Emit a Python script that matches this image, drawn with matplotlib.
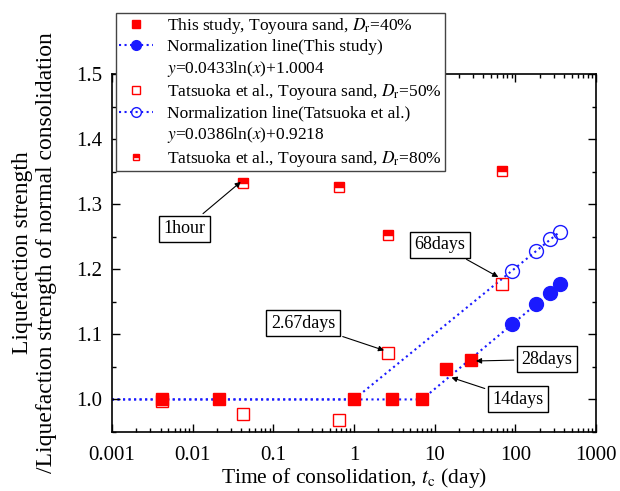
import matplotlib
matplotlib.use('Agg')
import matplotlib.pyplot as plt
from matplotlib.lines import Line2D
from matplotlib.ticker import MultipleLocator, LogLocator, NullFormatter, FixedLocator, FixedFormatter

plt.rcParams['font.family'] = ['Liberation Serif', 'DejaVu Serif']
plt.rcParams['mathtext.fontset'] = 'stix'

# This study, Dr=40%
study_t = [0.0042, 0.021, 1.0, 3.0, 7.0, 14.0, 28.0]
study_r = [1.0, 1.0, 1.0, 1.0, 1.0, 1.046, 1.061]
# normalized points
norm_t = [90, 180, 270, 360]
norm_study_r = [1.116, 1.147, 1.164, 1.177]
norm_tat_r = [1.197, 1.228, 1.246, 1.258]
# Tatsuoka et al. Dr=50%
tat50_t = [0.0042, 0.042, 0.65, 2.67, 68.0]
tat50_r = [0.998, 0.977, 0.969, 1.071, 1.178]
# Tatsuoka et al. Dr=80%
tat80_t = [0.042, 0.65, 2.67, 68.0]
tat80_r = [1.332, 1.326, 1.252, 1.351]
# normalization lines (straight on log axis)
line_study_t = [0.001, 7.0, 360]
line_study_r = [1.0, 1.0, 1.177]
line_tat_t = [0.001, 1.0, 360]
line_tat_r = [1.0, 1.0, 1.258]

# annotations: label, point, text position
notes = [
    ('1hour', (0.042, 1.337), (0.008, 1.262)),
    ('68days', (66.0, 1.186), (11.6, 1.238)),
    ('2.67days', (2.55, 1.074), (0.233, 1.117)),
    ('28days', (30.0, 1.059), (247, 1.0615)),
    ('14days', (15.0, 1.035), (108, 1.0)),
]


def main():
    fig = plt.figure(figsize=(6.2, 4.91), dpi=100)
    ax = fig.add_axes([0.1806, 0.1202, 0.7806, 0.7291])

    blue = '#1a1aff'
    red = '#ff0000'

    ax.plot(line_tat_t, line_tat_r, ':', color=blue, lw=1.5, zorder=1)
    ax.plot(line_study_t, line_study_r, ':', color=blue, lw=1.5, zorder=1)

    ax.plot(study_t, study_r, 's', color=red, ms=8.5, zorder=3)
    ax.plot(norm_t, norm_study_r, 'o', color=blue, ms=10, zorder=3)
    ax.plot(tat50_t, tat50_r, 's', mfc='none', mec=red, mew=1.0, ms=8, zorder=3)
    ax.plot(norm_t, norm_tat_r, 'o', mfc='none', mec=blue, mew=1.0, ms=10, zorder=3)
    ax.plot(tat80_t, tat80_r, 's', color=red, fillstyle='top', mfc=red,
            mfcalt='white', mec=red, mew=1.0, ms=7, zorder=3)

    for label, xy, xyt in notes:
        ax.annotate(label, xy=xy, xytext=xyt, fontsize=13, ha='center', va='center',
                    bbox=dict(boxstyle='square,pad=0.25', fc='white', ec='black', lw=1),
                    arrowprops=dict(arrowstyle='-|>', color='black', lw=0.8,
                                    mutation_scale=8, shrinkB=2),
                    zorder=4)

    ax.set_xscale('log')
    ax.set_xlim(0.001, 1000)
    ax.set_ylim(0.95, 1.5)
    ax.xaxis.set_major_locator(FixedLocator([0.001, 0.01, 0.1, 1, 10, 100, 1000]))
    ax.xaxis.set_major_formatter(FixedFormatter(['0.001', '0.01', '0.1', '1', '10', '100', '1000']))
    ax.xaxis.set_minor_locator(LogLocator(base=10, subs=range(2, 10), numticks=20))
    ax.xaxis.set_minor_formatter(NullFormatter())
    ax.yaxis.set_major_locator(MultipleLocator(0.1))
    ax.yaxis.set_minor_locator(MultipleLocator(0.05))
    ax.yaxis.set_major_formatter(plt.FuncFormatter(lambda v, p: '%.1f' % v))
    ax.tick_params(which='both', direction='in', top=True, right=True, labelsize=15, width=1)
    ax.tick_params(which='major', length=6)
    ax.tick_params(which='minor', length=3)
    ax.tick_params(axis='x', pad=10)
    ax.tick_params(axis='y', pad=7)
    for s in ax.spines.values():
        s.set_linewidth(1.2)

    ax.set_xlabel('Time of consolidation, $t_\\mathrm{c}$ (day)', fontsize=15.5, labelpad=1)
    ax.set_ylabel('Liquefaction strength\n/Liquefaction strength of normal consolidation',
                  fontsize=17, labelpad=14, linespacing=1.15)

    empty = Line2D([], [], linestyle='none', marker='none')
    handles = [
        Line2D([], [], linestyle='none', marker='s', color=red, ms=6),
        Line2D([], [], linestyle=':', color=blue, lw=1.5, marker='o', ms=7),
        empty,
        Line2D([], [], linestyle='none', marker='s', mfc='none', mec=red, ms=6),
        Line2D([], [], linestyle=':', color=blue, lw=1.5, marker='o', mfc='none', mec=blue, ms=7),
        empty,
        Line2D([], [], linestyle='none', marker='s', color=red, fillstyle='top',
               mfc=red, mfcalt='white', mec=red, ms=5),
    ]
    labels = [
        'This study, Toyoura sand, $D_\\mathrm{r}$=40%',
        'Normalization line(This study)',
        '$y$=0.0433ln($x$)+1.0004',
        'Tatsuoka et al., Toyoura sand, $D_\\mathrm{r}$=50%',
        'Normalization line(Tatsuoka et al.)',
        '$y$=0.0386ln($x$)+0.9218',
        'Tatsuoka et al., Toyoura sand, $D_\\mathrm{r}$=80%',
    ]
    leg = fig.legend(handles, labels, loc='upper left', bbox_to_anchor=(0.187, 0.9735),
                     fontsize=12.5, frameon=True, fancybox=False, borderaxespad=0,
                     borderpad=0.15, labelspacing=0.2, handlelength=2.0,
                     handletextpad=0.8, edgecolor='#444444', framealpha=1)
    leg.get_frame().set_linewidth(1.0)
    leg.set_zorder(5)

    fig.savefig('out.png', dpi=100)


if __name__ == '__main__':
    main()
